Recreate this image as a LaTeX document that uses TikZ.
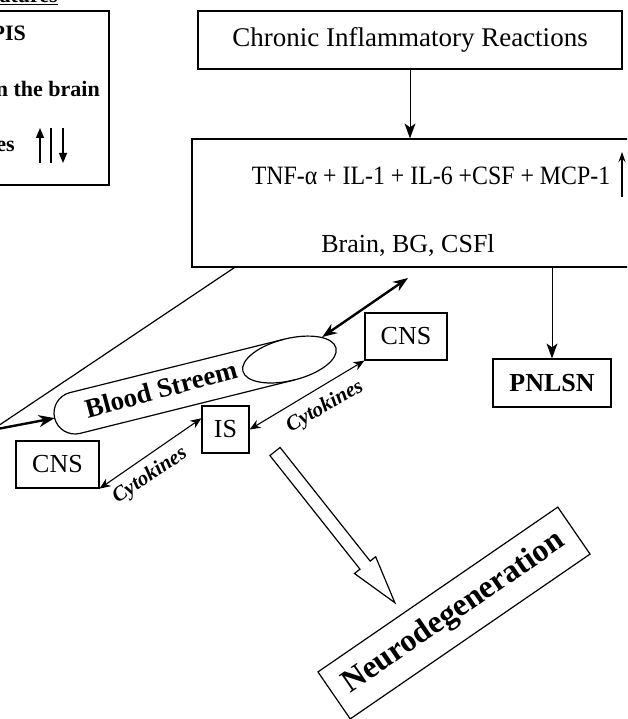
\documentclass[tikz,border=0pt]{standalone}
\usepackage{fontspec}
\setmainfont{Liberation Serif}
\usetikzlibrary{arrows.meta,positioning,shapes.geometric}

\begin{document}
\begin{tikzpicture}[x=1pt,y=-1pt,
 box/.style={draw,line width=1.2pt,inner sep=0pt,font=\fontsize{26}{30}\selectfont},
 bbox/.style={box,font=\fontsize{26}{30}\selectfont\bfseries},
 txt/.style={inner sep=0pt,anchor=base,font=\fontsize{26}{30}\selectfont},
 side/.style={inner sep=0pt,anchor=base east,font=\fontsize{22}{26}\selectfont\bfseries},
 arrow/.style={-{Stealth[length=15pt,width=11pt,inset=4pt]},line width=1pt},
 fat/.style={{Stealth[length=15pt,width=11pt]}-{Stealth[length=15pt,width=11pt]},line width=2.4pt},
 cyto/.style={{Stealth[length=11pt,width=9pt]}-{Stealth[length=11pt,width=9pt]},line width=1.1pt},
 cytolabel/.style={inner sep=0pt,font=\fontsize{21}{24}\selectfont\bfseries\itshape},
 hollow/.style={draw,line width=1.2pt,fill=white}]
\useasboundingbox (0,0) rectangle (627,719);
\clip (0,0) rectangle (627,719);

% feature box, cut by the left edge
\node[box,minimum width=139,minimum height=174] (feat) at (39.5,98) {};
\node[side,font=\fontsize{22}{26}\selectfont\bfseries] (feathead) at (58,3) {\underline{atures}};
\node[side] (pis) at (26,41) {PIS};
\node[side] (brain) at (100,97) {n the brain};
\node[side] (level) at (15,152) {es};
\draw[-{Triangle[length=10pt,width=8pt]},line width=1.2pt] (40,163) -- (40,128);
\draw[line width=1.2pt] (51,128) -- (51,163);
\draw[-{Triangle[length=10pt,width=8pt]},line width=1.2pt] (63,128) -- (63,163);

% top of the chain
\node[box,minimum width=424,minimum height=58] (chronic) at (410,40) {\fontsize{27}{30}\selectfont Chronic Inflammatory Reactions};
\node[box,minimum width=438,minimum height=128] (big) at (411,203) {};
\node[txt] (mix) at (431,185) {\scalebox{0.9}[1]{\fontsize{26.5}{30}\selectfont TNF-α + IL-1 + IL-6 +CSF + MCP-1}};
\node[txt] (sites) at (408,252) {Brain, BG, CSFl};
\draw[-{Stealth[length=10pt,width=7pt]},line width=1.2pt] (622,197) -- (622,152);
\node[bbox,minimum width=118,minimum height=48] (pnlsn) at (552,383) {PNLSN};

\draw[arrow] (chronic.south) -- (chronic.south |- big.north);
\draw[arrow] (pnlsn.north |- big.south) -- (pnlsn.north);

% blood stream tube
\begin{scope}[shift={(75,413)},rotate=14,y=1pt]
  \draw[line width=1.2pt] (221,21) -- (0,21) arc[start angle=90,end angle=270,radius=21] -- (221,-21);
  \node[draw,ellipse,line width=1.2pt,minimum width=96,minimum height=42,inner sep=0pt,rotate=14] (mouth) at (221,0) {};
  \coordinate (tip) at (-21,0);
\end{scope}
\node[inner sep=0pt,rotate=15,font=\fontsize{27}{30}\selectfont\bfseries] (bs) at (161,389) {Blood Streem};

\coordinate (src) at (-8,430);
\coordinate (feed) at ([xshift=43]big.south west);
\coordinate (reach) at (408,278);
\draw[line width=1.2pt] (feed) -- (src);
\draw[-{Stealth[length=16pt,width=12pt]},line width=2.4pt] (src) -- (tip);
\draw[fat] (mouth) -- (reach);

% cytokine exchange
\node[box,minimum width=82,minimum height=47] (cnsr) at (406,336.5) {CNS};
\node[box,minimum width=47,minimum height=47] (is) at (225.5,429.5) {IS};
\node[box,minimum width=83,minimum height=47] (cnsl) at (57.5,464.5) {CNS};
\draw[cyto] (cnsl.south east) -- (is.155);
\draw[cyto] (is.east) -- (cnsr.south west);
\node[cytolabel,rotate=34] (cytl) at (150,476) {Cytokines};
\node[cytolabel,rotate=30] (cytr) at (325,407) {Cytokines};

% outcome
\node[bbox,rotate=34.5,minimum width=291,minimum height=57,font=\fontsize{32}{36}\selectfont\bfseries] (neuro) at (454,613) {Neurodegeneration};
\begin{scope}[shift={(275,451.5)},rotate=-51.6,y=1pt]
  \draw[hollow] (0,6.5) -- (145,6.5) -- (145,13.5) -- (193,0) -- (145,-13.5) -- (145,-6.5) -- (0,-6.5) -- cycle;
\end{scope}
\end{tikzpicture}
\end{document}
